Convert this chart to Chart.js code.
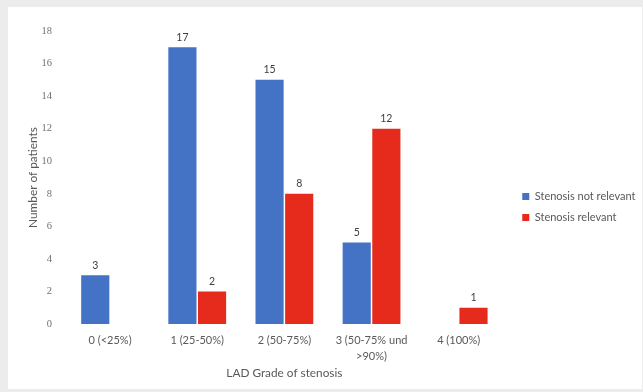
<!DOCTYPE html>
<html>
<head>
<meta charset="utf-8">
<script src="https://cdn.jsdelivr.net/npm/chart.js@4.4.1/dist/chart.umd.min.js"></script>
<style>
  html, body { margin: 0; padding: 0; background: #ececec; }
  body { width: 643px; height: 392px; position: relative; overflow: hidden; }
  #card { position: absolute; left: 8px; top: 7px; width: 634px; height: 382px; background: #fff; }
</style>
</head>
<body>
<div id="card"><canvas id="stenosisChart" width="634" height="382"></canvas></div>
<script>
// LAD stenosis grades and patient counts per group
const grades = ['0 (<25%)', '1 (25-50%)', '2 (50-75%)', ['3 (50-75% und', '>90%)'], '4 (100%)'];
const notRelevant = [3, 17, 15, 5, 0];
const relevant = [0, 2, 8, 12, 1];
const yTicks = [0, 2, 4, 6, 8, 10, 12, 14, 16, 18];

const textColor = '#595959';
const fontFamily = 'Lato, "Open Sans", sans-serif';

// writes the count above each bar (zero bars stay unlabelled)
const valueLabels = {
    id: 'valueLabels',
    afterDatasetsDraw(chart) {
        const ctx = chart.ctx;
        ctx.save();
        ctx.font = '10.5px ' + fontFamily;
        ctx.fillStyle = '#404040';
        ctx.textAlign = 'center';
        ctx.textBaseline = 'middle';
        chart.data.datasets.forEach((ds, i) => {
            chart.getDatasetMeta(i).data.forEach((bar, j) => {
                const v = ds.data[j];
                if (!v) return;
                ctx.fillText(String(v), bar.x, bar.y - 10);
            });
        });
        ctx.restore();
    }
};

new Chart(document.getElementById('stenosisChart'), {
    type: 'bar',
    data: {
        labels: grades,
        datasets: [
            {
                label: 'Stenosis not relevant',
                data: notRelevant,
                backgroundColor: '#4472c4',
                borderWidth: 0,
                categoryPercentage: 0.68,
                barPercentage: 0.95
            },
            {
                label: 'Stenosis relevant',
                data: relevant,
                backgroundColor: '#e62a1c',
                borderWidth: 0,
                categoryPercentage: 0.68,
                barPercentage: 0.95
            }
        ]
    },
    options: {
        responsive: false,
        animation: false,
        layout: { padding: { left: 14, top: 24, right: -3.5, bottom: 6 } },
        plugins: {
            tooltip: { enabled: false },
            legend: {
                position: 'right',
                maxWidth: 200,
                labels: {
                    boxWidth: 7,
                    boxHeight: 7,
                    padding: 10,
                    color: textColor,
                    font: { family: fontFamily, size: 11 }
                }
            }
        },
        scales: {
            x: {
                grid: { display: false, drawTicks: false },
                border: { display: false },
                ticks: {
                    color: textColor,
                    padding: 8,
                    maxRotation: 0,
                    font: { family: fontFamily, size: 11, lineHeight: 1.5 }
                },
                title: {
                    display: true,
                    text: 'LAD Grade of stenosis',
                    color: textColor,
                    padding: { top: 0, bottom: 3 },
                    font: { family: fontFamily, size: 11.8 }
                },
                afterFit: s => { s.height = 59; }
            },
            y: {
                min: 0,
                max: 18,
                afterBuildTicks: s => { s.ticks = yTicks.map(v => ({ value: v })); },
                grid: { display: false, drawTicks: false },
                border: { display: false },
                ticks: {
                    color: '#707070',
                    padding: 14.5,
                    font: { family: '"Liberation Serif", serif', size: 10.5 }
                },
                title: {
                    display: true,
                    text: 'Number of patients',
                    color: textColor,
                    padding: { top: 4, bottom: 0 },
                    font: { family: fontFamily, size: 11.8 }
                },
                afterFit: s => { s.width = 44.5; }
            },
            // empty strip between the plot and the legend
            gap: {
                position: 'right',
                grid: { display: false, drawTicks: false },
                border: { display: false },
                ticks: { display: false },
                afterFit: s => { s.width = 10; }
            }
        }
    },
    plugins: [valueLabels]
});
</script>
</body>
</html>
